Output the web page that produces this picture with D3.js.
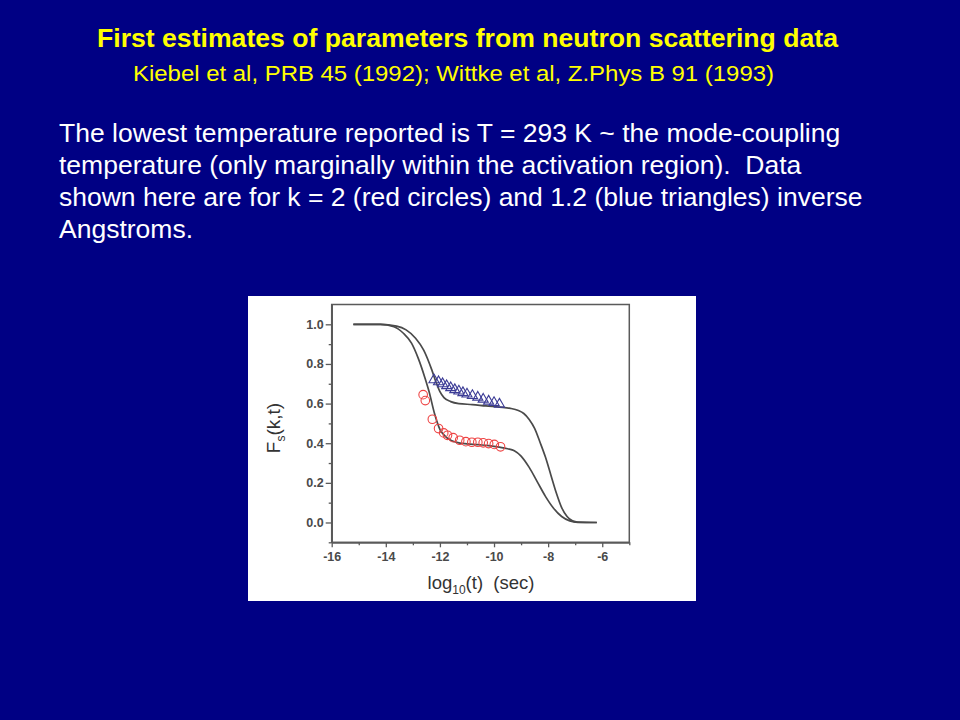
<!DOCTYPE html>
<html><head><meta charset="utf-8">
<script src="https://cdn.jsdelivr.net/npm/d3@7"></script>
<style>
html,body{margin:0;padding:0;background:#000084;}
svg{display:block;}
</style></head>
<body>
<svg id="c" width="960" height="720"></svg>
<script>
// ---- data ----
const titleText = "First estimates of parameters from neutron scattering data";
const subtitleText = "Kiebel et al, PRB 45 (1992); Wittke et al, Z.Phys B 91 (1993)";
const bodyLines = [
  "The lowest temperature reported is T = 293 K ~ the mode-coupling",
  "temperature (only marginally within the activation region).  Data",
  "shown here are for k = 2 (red circles) and 1.2 (blue triangles) inverse",
  "Angstroms."
];
const xTicks = [-16, -14, -12, -10, -8, -6];
const yTicks = [0.0, 0.2, 0.4, 0.6, 0.8, 1.0];
// fitted curve for k = 2 (lower curve)
const curveK2X = [-15.2,-14.2,-13.7,-13.35,-13.05,-12.8,-12.55,-12.4,-12.2,-12.0,-11.8,-11.6,-11.3,-11.0,-10.6,-10.2,-9.8,-9.5,-9.25,-9.0,-8.7,-8.4,-8.1,-7.8,-7.5,-7.2,-6.9,-6.2];
const curveK2Y = [1.0,1.0,0.988,0.955,0.905,0.828,0.728,0.66,0.55,0.47,0.435,0.415,0.402,0.397,0.393,0.388,0.38,0.372,0.362,0.335,0.278,0.205,0.132,0.072,0.03,0.008,0.001,0.0];
// fitted curve for k = 1.2 (upper curve)
const curveK12X = [-15.2,-14.2,-13.6,-13.25,-12.9,-12.6,-12.3,-12.15,-12.0,-11.85,-11.6,-11.3,-10.8,-10.3,-9.8,-9.4,-9.1,-8.9,-8.7,-8.5,-8.3,-8.1,-7.9,-7.7,-7.5,-7.3,-7.1,-6.9,-6.2];
const curveK12Y = [1.0,1.0,0.991,0.972,0.93,0.87,0.77,0.71,0.66,0.63,0.61,0.6,0.595,0.588,0.582,0.576,0.565,0.55,0.52,0.475,0.405,0.33,0.24,0.15,0.075,0.03,0.008,0.002,0.0];
// data k = 2 (red circles)
const circlesX = [-12.62,-12.54,-12.28,-12.05,-11.86,-11.72,-11.51,-11.27,-11.04,-10.82,-10.6,-10.4,-10.2,-9.99,-9.76];
const circlesY = [0.645,0.615,0.521,0.474,0.452,0.44,0.428,0.415,0.408,0.405,0.405,0.402,0.398,0.394,0.382];
// data k = 1.2 (blue triangles)
const trianglesX = [-12.22,-12.05,-11.9,-11.75,-11.6,-11.45,-11.3,-11.15,-11.0,-10.8,-10.6,-10.4,-10.2,-10.0,-9.8];
const trianglesY = [0.72,0.71,0.70,0.69,0.68,0.67,0.663,0.655,0.648,0.64,0.632,0.622,0.612,0.605,0.597];

// ---- drawing ----
const svg = d3.select("#c");
const font = "Liberation Sans, Arial, sans-serif";
svg.append("rect").attr("width",960).attr("height",720).attr("fill","#000084");

svg.append("text").attr("x",97).attr("y",47)
  .attr("font-family",font).attr("font-weight","bold")
  .attr("font-size",25).attr("fill","#ffff00")
  .attr("textLength",741).attr("lengthAdjust","spacingAndGlyphs").text(titleText);
svg.append("text").attr("x",133).attr("y",81)
  .attr("font-family",font)
  .attr("font-size",22).attr("fill","#ffff00")
  .attr("textLength",641).attr("lengthAdjust","spacingAndGlyphs").text(subtitleText);

svg.selectAll("text.body").data(bodyLines).enter().append("text")
  .attr("class","body").attr("x",59).attr("y",(d,i)=>142+i*32)
  .attr("font-family",font)
  .attr("font-size",26.5).attr("fill","#ffffff").attr("xml:space","preserve")
  .style("white-space","pre").text(d=>d);

// white panel
svg.append("rect").attr("x",248).attr("y",296).attr("width",448).attr("height",305).attr("fill","#ffffff");

const x = d3.scaleLinear().domain([-16,-5]).range([331.7,629.3]);
const y = d3.scaleLinear().domain([-0.1,1.1]).range([542.3,304.5]);
const axisCol = "#5a5a5a";

const g = svg.append("g");
const yMinor = [-0.1,0.1,0.3,0.5,0.7,0.9];
const xMinor = [-15,-13,-11,-9,-7,-5];

// frame
g.append("rect").attr("x",x(-16)).attr("y",y(1.1)).attr("width",x(-5)-x(-16)).attr("height",y(-0.1)-y(1.1))
  .attr("fill","none").attr("stroke",axisCol).attr("stroke-width",1.5);

const fmtX = d => String(d);
const yAxis = g.append("g").attr("transform",`translate(${x(-16)},0)`)
  .call(d3.axisLeft(y).tickValues(yTicks).tickSize(6).tickSizeOuter(0).tickPadding(2).tickFormat(d3.format(".1f")));
const yAxisMinor = g.append("g").attr("transform",`translate(${x(-16)},0)`)
  .call(d3.axisLeft(y).tickValues(yMinor).tickSize(3).tickSizeOuter(0).tickFormat(""));
const xAxis = g.append("g").attr("transform",`translate(0,${y(-0.1)})`)
  .call(d3.axisBottom(x).tickValues(xTicks).tickSize(5).tickSizeOuter(0).tickPadding(5).tickFormat(fmtX));
const xAxisMinor = g.append("g").attr("transform",`translate(0,${y(-0.1)})`)
  .call(d3.axisBottom(x).tickValues(xMinor).tickSize(3).tickSizeOuter(0).tickFormat(""));
[yAxis,yAxisMinor,xAxis,xAxisMinor].forEach(a=>{
  a.select(".domain").attr("stroke",axisCol).attr("stroke-width",1.5);
  a.selectAll(".tick line").attr("stroke",axisCol).attr("stroke-width",1.3);
  a.selectAll(".tick text").attr("fill","#4a4a4a").attr("font-family",font).attr("font-size",12.5).attr("font-weight","bold");
});

// axis titles
const yt = svg.append("text").attr("transform","translate(280,428) rotate(-90)").attr("text-anchor","middle")
  .attr("font-family",font).attr("font-size",19).attr("fill","#333");
yt.append("tspan").text("F");
yt.append("tspan").attr("font-size",12).attr("dy",5).text("s");
yt.append("tspan").attr("dy",-5).text("(k,t)");
const xt = svg.append("text").attr("x",481).attr("y",589).attr("text-anchor","middle")
  .attr("font-family",font).attr("font-size",18.5).attr("fill","#333");
xt.append("tspan").text("log");
xt.append("tspan").attr("font-size",12).attr("dy",5).text("10");
xt.append("tspan").attr("dy",-5).attr("xml:space","preserve").style("white-space","pre").text("(t)  (sec)");

// curves
const line = d3.line().x(d=>x(d[0])).y(d=>y(d[1])).curve(d3.curveMonotoneX);
const curves = [d3.zip(curveK2X,curveK2Y), d3.zip(curveK12X,curveK12Y)];
svg.selectAll("path.fit").data(curves).enter().append("path").attr("class","fit")
  .attr("d",line).attr("fill","none").attr("stroke","#4a4a4a").attr("stroke-width",1.7);

// markers
svg.selectAll("path.tri").data(d3.zip(trianglesX,trianglesY)).enter().append("path").attr("class","tri")
  .attr("d",d3.symbol().type(d3.symbolTriangle).size(44))
  .attr("transform",d=>`translate(${x(d[0])},${y(d[1])})`)
  .attr("fill","none").attr("stroke","#3c3c96").attr("stroke-width",1.1);
svg.selectAll("circle.pt").data(d3.zip(circlesX,circlesY)).enter().append("circle").attr("class","pt")
  .attr("cx",d=>x(d[0])).attr("cy",d=>y(d[1])).attr("r",4.3)
  .attr("fill","none").attr("stroke","#ee4444").attr("stroke-width",1.1);
</script>
</body></html>
